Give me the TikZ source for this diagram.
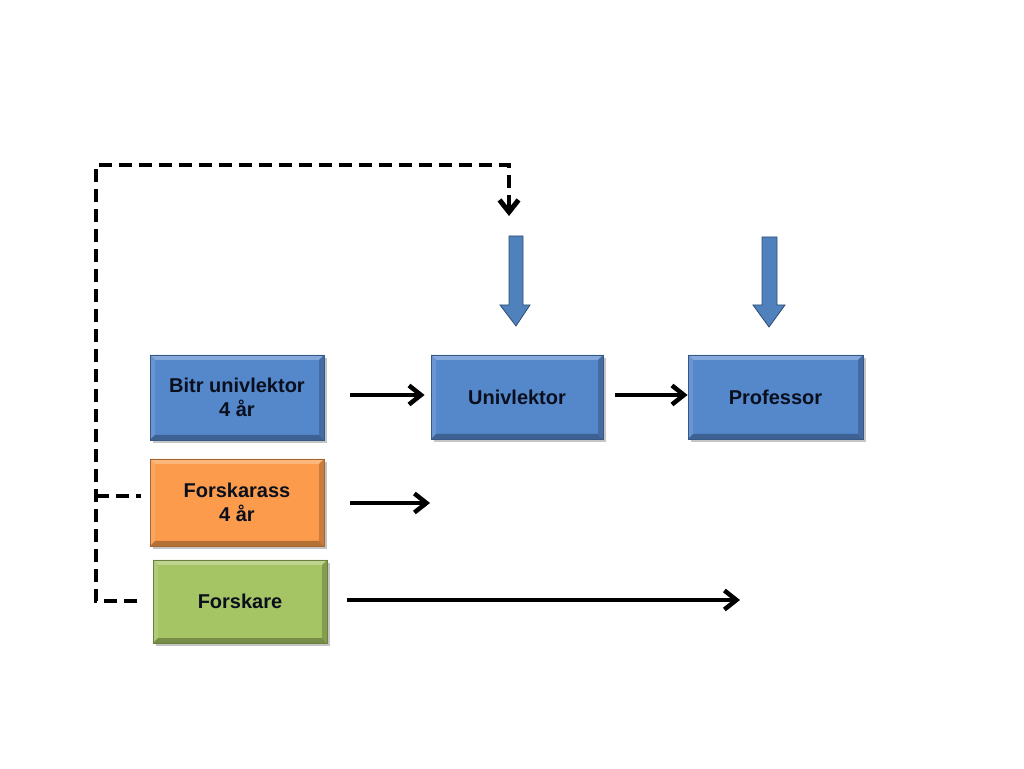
\documentclass[tikz,border=0pt]{standalone}
\usepackage{fontspec}
\setmainfont{Liberation Sans}
\usetikzlibrary{arrows.meta,shadows}
\definecolor{bxblue}{HTML}{5587CB}
\definecolor{bxorange}{HTML}{FB9B4B}
\definecolor{bxgreen}{HTML}{A5C463}
\definecolor{arblue}{HTML}{4F81BD}
\definecolor{txt}{HTML}{0A0F1E}
\tikzset{
  x=1pt,y=1pt,
  bevel/.style={fill=#1, draw=#1!65!black, line width=0.8,
    drop shadow={shadow xshift=3, shadow yshift=-3, opacity=0.45},
    path picture={
      \fill[#1!72!white] (path picture bounding box.north west) -- (path picture bounding box.north east)
        -- ([shift={(-5,-5)}]path picture bounding box.north east) -- ([shift={(5,-5)}]path picture bounding box.north west) -- cycle;
      \fill[#1!88!white] (path picture bounding box.north west) -- (path picture bounding box.south west)
        -- ([shift={(5,5)}]path picture bounding box.south west) -- ([shift={(5,-5)}]path picture bounding box.north west) -- cycle;
      \fill[#1!72!black] (path picture bounding box.south west) -- (path picture bounding box.south east)
        -- ([shift={(-5,5)}]path picture bounding box.south east) -- ([shift={(5,5)}]path picture bounding box.south west) -- cycle;
      \fill[#1!80!black] (path picture bounding box.north east) -- (path picture bounding box.south east)
        -- ([shift={(-5,5)}]path picture bounding box.south east) -- ([shift={(-5,-5)}]path picture bounding box.north east) -- cycle;
    }},
  box/.style={bevel=#1, inner sep=0pt, align=center, text=txt,
    font=\fontsize{20}{24}\selectfont\bfseries},
  flow/.style={line width=3.5, -{Straight Barb[length=12,width=19,line width=4.5]}},
  dash link/.style={line width=4, dash pattern=on 13 off 7},
  blockarrow/.style={fill=arblue, draw=arblue!60!black, line width=0.8}
}
\begin{document}
\begin{tikzpicture}
\useasboundingbox (0,0) rectangle (1024,768);
\fill[white] (0,0) rectangle (1024,768);

\node[box=bxblue, minimum width=174, minimum height=85] (bitr) at (237,370.5) {Bitr univlektor\\4 år};
\node[box=bxblue, minimum width=172, minimum height=84] (univ) at (517,371) {Univlektor};
\node[box=bxblue, minimum width=175, minimum height=84] (prof) at (775.5,371) {Professor};
\node[box=bxorange, minimum width=174, minimum height=87] (fass) at (237,265.5) {Forskarass\\4 år};
\node[box=bxgreen, minimum width=174, minimum height=83] (fsk) at (240,166.5) {Forskare};

% solid flow arrows
\coordinate (a1s) at (350,373);
\coordinate (a2s) at (615,373);
\coordinate (a3s) at (350,265);
\coordinate (a3e) at (430,265);
\coordinate (a4s) at (347,168);
\coordinate (a4e) at (740,168);
\draw[flow] (a1s) -- ([xshift=-6]univ.west |- a1s);
\draw[flow] (a2s) -- (prof.west |- a2s);
\draw[flow] (a3s) -- (a3e);
\draw[flow] (a4s) -- (a4e);

% block arrows
\draw[blockarrow] (509,532) -- (523,532) -- (523,463) -- (530,463) -- (516,442) -- (500,463) -- (509,463) -- cycle;
\draw[blockarrow] (762,531) -- (777,531) -- (777,463) -- (785,463) -- (769,441) -- (753,463) -- (762,463) -- cycle;

% dashed links
\coordinate (d0) at (137,167);
\coordinate (d1) at (96,167);
\coordinate (d2) at (96,603);
\coordinate (d3) at (509,603);
\coordinate (d4) at (509,554);
\coordinate (b0) at (96,272);
\coordinate (b1) at (141,272);
\draw[dash link] (d0) -- (d1) -- (d2) -- (d3) -- (d4);
\draw[line width=4, -{Straight Barb[length=12,width=19,line width=5]}] ([yshift=4]d4) -- ([yshift=-2]d4) ;
\draw[dash link] (b0) -- (b1);
\end{tikzpicture}
\end{document}
